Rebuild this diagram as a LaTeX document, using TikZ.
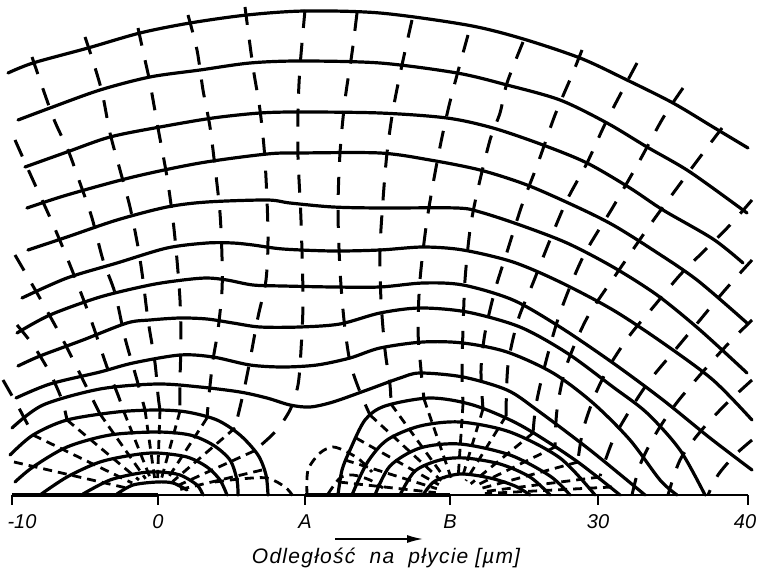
\documentclass[tikz,border=0pt]{standalone}
\usepackage{fontspec}
\setmainfont{Liberation Sans}
\usetikzlibrary{calc,arrows.meta}
\begin{document}
\begin{tikzpicture}[x=1pt,y=-1pt,
  eq/.style={line width=3.2pt, line cap=round, line join=round},
  fl/.style={line width=3pt, dash pattern=on 18pt off 15pt},
  fls/.style={line width=2.8pt, dash pattern=on 9pt off 6pt},
  lab/.style={font=\fontsize{20}{22}\selectfont\itshape, inner sep=0pt}]
\useasboundingbox (0,0) rectangle (760,580);
\coordinate (CL) at (157,495);
\coordinate (CR) at (457,495);
% ---------- axis ----------
\coordinate (ax0) at (12,495);
\coordinate (ax1) at (748,495);
\draw[line width=2pt] (ax0) -- (ax1);
\coordinate (e1a) at (12,495); \coordinate (e1b) at (158,495);
\coordinate (e2a) at (305,495); \coordinate (e2b) at (450,495);
\draw[line width=3.8pt] (e1a) -- (e1b);
\draw[line width=4.4pt] (e2a) -- (e2b);
\foreach \x/\n in {12/a,158/b,305/c,450/d,598/e,748/f}{
  \coordinate (t\n1) at (\x,495); \coordinate (t\n2) at (\x,505);
  \draw[line width=1.8pt] (t\n1) -- (t\n2);}
% ---------- equipotentials (solid) ----------
\draw[eq] plot[smooth] coordinates {(8,73) (33,63) (88,48) (140,33) (190,23) (247,15) (305,11) (380,13) (467,25) (520,38) (580,58) (627,80) (673,103) (713,127) (748,148)};
\draw[eq] plot[smooth] coordinates {(18,120) (50,108) (100,90) (150,77) (200,70) (250,63) (300,61) (380,63) (457,73) (507,85) (560,100) (607,123) (647,147) (690,172) (747,213)};
\draw[eq] plot[smooth] coordinates {(25,167) (67,152) (110,137) (160,127) (213,118) (260,113) (300,112) (380,113) (447,118) (493,128) (543,145) (587,163) (630,188) (663,210) (713,239) (743,263)};
\draw[eq] plot[smooth] coordinates {(27,208) (67,195) (133,177) (200,163) (267,154) (300,153) (380,153) (430,160) (480,170) (527,185) (577,207) (613,225) (653,250) (697,280) (747,323)};
\draw[eq] plot[smooth] coordinates {(28,250) (67,237) (117,220) (167,207) (207,202) (267,200) (290,203) (333,207) (380,208) (457,208) (480,212) (520,225) (567,243) (613,267) (657,295) (700,330) (747,373)};
\draw[eq] plot[smooth] coordinates {(22,298) (67,278) (117,263) (167,248) (207,243) (233,243) (253,245) (283,249) (333,251) (380,250) (423,247) (463,250) (513,262) (560,282) (613,310) (663,343) (713,380) (752,420)};
\draw[eq] plot[smooth] coordinates {(17,333) (50,315) (100,297) (150,285) (183,280) (207,278) (227,280) (253,285) (283,286) (333,287) (380,287) (423,283) (463,285) (513,300) (560,327) (613,363) (663,400) (710,438) (752,470)};
\draw[eq] plot[smooth] coordinates {(18,366) (40,356) (83,340) (127,323) (150,320) (180,318) (207,319) (233,323) (260,327) (300,327) (340,324) (380,313) (420,308) (467,312) (520,327) (567,353) (613,387) (647,413) (680,450) (705,495)};
\draw[eq] plot[smooth] coordinates {(16,398) (50,384) (100,372) (133,363) (180,355) (213,357) (250,365) (283,367) (317,365) (350,358) (380,348) (423,342) (463,343) (507,352) (553,373) (593,403) (630,440) (660,480) (677,495)};
\draw[eq] plot[smooth] coordinates {(12,428) (43,405) (100,389) (157,384) (200,387) (240,392) (267,398) (290,405) (310,407) (333,402) (367,390) (400,378) (420,373) (463,377) (507,390) (537,410) (590,450) (645,495)};
% left family
\draw[eq] plot[smooth] coordinates {(10,455) (33,435) (67,420) (117,412) (157,410) (187,412) (217,420) (240,435) (258,455) (266,475) (268,495)};
\draw[eq] plot[smooth] coordinates {(15,482) (33,467) (67,447) (110,435) (157,432) (190,435) (213,445) (230,460) (237,480) (238,495)};
\draw[eq] plot[smooth] coordinates {(40,495) (67,477) (100,462) (133,455) (157,453) (187,457) (207,467) (220,480) (227,495)};
\draw[eq] plot[smooth] coordinates {(83,494) (110,480) (140,473) (160,472) (180,475) (197,485) (203,495)};
\draw[eq] plot[smooth] coordinates {(117,494) (133,485) (157,482) (173,483) (187,490)};
% right family
\draw[eq] plot[smooth] coordinates {(423,495) (435,481) (460,474) (490,478) (515,486) (530,495)};
\draw[eq] plot[smooth] coordinates {(400,495) (415,471) (440,460) (465,458) (500,464) (530,477) (550,495)};
\draw[eq] plot[smooth] coordinates {(375,495) (390,466) (420,448) (460,444) (510,455) (550,476) (570,495)};
\draw[eq] plot[smooth] coordinates {(352,495) (367,463) (387,440) (420,426) (460,422) (510,432) (560,458) (595,495)};
\draw[eq] plot[smooth] coordinates {(338,495) (342,470) (350,450) (365,420) (385,406) (430,398) (473,405) (520,425) (575,460) (620,495)};
% ---------- field lines (dashed) ----------
% left group, outer parts
\draw[fl] plot[smooth] coordinates {(3,380) (20,410) (33,435)};
\draw[fl] plot[smooth] coordinates {(17,325) (33,345) (50,373) (62,400) (67,420)};
\draw[fl] plot[smooth] coordinates {(15,255) (37,293) (63,340) (88,390) (100,414)};
\draw[fl] plot[smooth] coordinates {(15,140) (32,178) (52,222) (70,265) (90,317) (107,367) (118,395) (124,412)};
\draw[fl] plot[smooth] coordinates {(32,57) (53,117) (68,150) (80,183) (92,218) (103,260) (115,293) (125,338) (137,380) (145,410)};
\draw[fl] plot[smooth] coordinates {(85,37) (92,58) (102,92) (110,133) (120,170) (130,207) (138,247) (143,280) (148,320) (155,363) (158,395) (160,410)};
\draw[fl] plot[smooth] coordinates {(138,28) (145,60) (150,83) (158,128) (167,177) (173,220) (177,260) (180,300) (181,340) (180,380) (180,411)};
\draw[fl] plot[smooth] coordinates {(188,15) (197,50) (203,90) (210,127) (215,167) (220,213) (222,257) (222,290) (218,330) (213,360) (209,395) (207,418)};
\draw[fl] plot[smooth] coordinates {(245,7) (253,67) (260,110) (265,160) (268,233) (266,280) (258,317) (250,360) (244,390) (235,428)};
\draw[fl] plot[smooth] coordinates {(305,10) (300,67) (298,110) (298,157) (301,220) (303,300) (301,350) (298,385) (290,410) (275,432) (254,451)};
% right group, outer parts
\draw[fl] plot[smooth] coordinates {(357,13) (352,53) (345,100) (340,153) (338,210) (340,270) (344,320) (350,362) (360,392) (370,415)};
\draw[fl] plot[smooth] coordinates {(412,20) (402,65) (393,110) (387,153) (383,200) (380,250) (381,300) (385,350) (390,385) (391,404)};
\draw[fl] plot[smooth] coordinates {(468,35) (457,75) (448,110) (438,157) (427,220) (420,280) (418,330) (421,370) (424,399)};
\draw[fl] plot[smooth] coordinates {(523,42) (507,83) (500,113) (490,140) (477,193) (470,230) (465,280) (463,330) (462,370) (463,404)};
\draw[fl] plot[smooth] coordinates {(582,50) (572,75) (555,115) (538,163) (522,205) (507,252) (495,290) (485,333) (481,370) (483,409)};
\draw[fl] plot[smooth] coordinates {(637,63) (607,120) (587,163) (567,200) (550,240) (533,283) (518,320) (508,365) (506,416)};
\draw[fl] plot[smooth] coordinates {(683,88) (663,118) (640,160) (613,207) (583,257) (560,313) (545,365) (536,405) (533,433)};
\draw[fl] plot[smooth] coordinates {(722,128) (700,157) (677,188) (650,225) (617,273) (587,318) (566,367) (557,410) (555,447)};
\draw[fl] plot[smooth] coordinates {(752,200) (730,225) (705,250) (680,275) (655,305) (630,335) (610,365) (595,395) (583,430) (578,460)};
\draw[fl] plot[smooth] coordinates {(752,260) (725,290) (700,320) (675,350) (650,380) (630,410) (613,440) (600,476)};
\draw[fl] plot[smooth] coordinates {(752,320) (727,345) (700,375) (675,405) (655,435) (640,465) (632,495)};
\draw[fl] plot[smooth] coordinates {(752,380) (725,405) (700,432) (680,460) (668,495)};
\draw[fl] plot[smooth] coordinates {(752,440) (735,455) (718,475) (708,495)};
% inner radial parts
\foreach \px/\py in {14/462,33/435,67/420,100/414,124/412,145/410,160/410,180/411,207/418,235/428,254/451,262/470}
  {\draw[fls] (\px,\py) -- ($(CL)!0.2!(\px,\py)$);}
\foreach \px/\py in {339/482,345/460,356/438,370/415,391/404,424/399,463/404,483/409,506/416,533/433,555/447,578/462,600/477,612/487}
  {\draw[fls] (\px,\py) -- ($(CR)!0.18!(\px,\py)$);}
% small field lines near A and between electrodes
\draw[fls] plot[smooth] coordinates {(307,495) (308,470) (320,453) (333,447) (347,452) (360,460) (372,472)};
\draw[fls] plot[smooth] coordinates {(328,494) (340,478) (353,475) (370,480) (383,488)};
\draw[fls] plot[smooth] coordinates {(215,482) (240,479) (267,478) (285,487) (293,496)};
% ---------- labels ----------
\node[lab] (lm10) at (22,522) {-10};
\node[lab] (l0) at (158,522) {0};
\node[lab] (lA) at (305,522) {A};
\node[lab] (lB) at (450,522) {B};
\node[lab] (l30) at (598,522) {30};
\node[lab] (l40) at (745,522) {40};
\coordinate (arA) at (335,539);
\coordinate (arB) at (423,539);
\draw[line width=1.6pt, -{Latex[length=16pt,width=8pt]}] (arA) -- (arB);
\node[lab, font=\fontsize{21}{23}\selectfont\itshape\addfontfeatures{LetterSpace=6}] (cap) at (386,558) {Odległość\ \ na\ \ płycie\ [\kern1pt µm\kern1pt]};
\end{tikzpicture}
\end{document}
